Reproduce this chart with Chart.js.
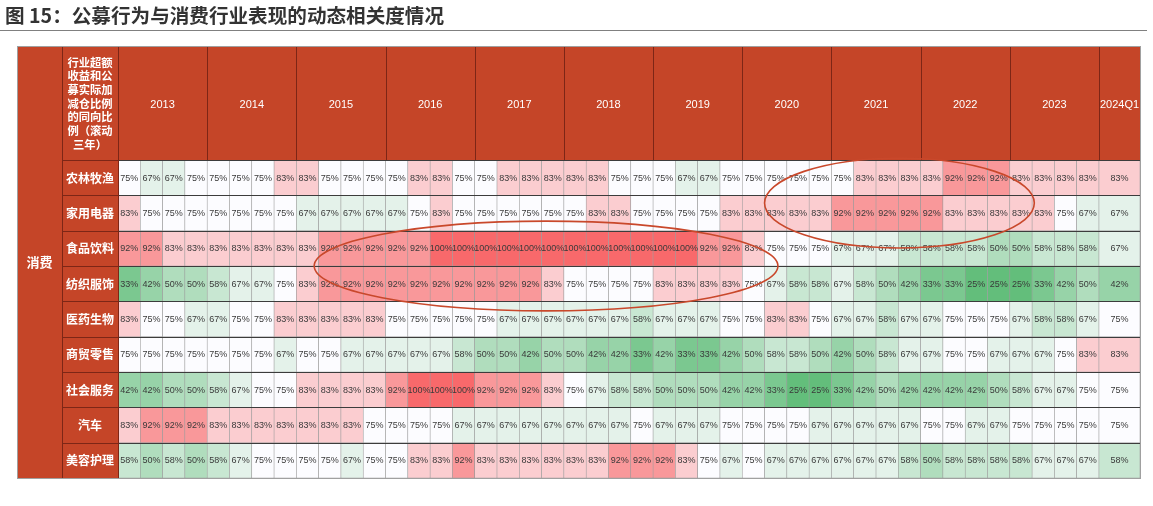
<!DOCTYPE html>
<html>
<head>
<meta charset="utf-8">
<script src="https://cdn.jsdelivr.net/npm/chart.js@4.4.1/dist/chart.umd.min.js"></script>
<style>
  html, body { margin: 0; padding: 0; background: #ffffff; width: 1153px; height: 506px; overflow: hidden; }
  #wrap { position: absolute; left: 0; top: 0; width: 1153px; height: 506px; }
  #title {
    position: absolute; left: 0; top: 0; width: 1147px; height: 31px;
    border-bottom: 1.5px solid #808080; box-sizing: border-box;
    padding-left: 5px; font-family: "Noto Sans CJK SC", sans-serif; font-weight: bold;
    font-size: 19.6px; line-height: 29px; color: #333333; white-space: nowrap;
  }
</style>
</head>
<body>
<div id="wrap"><canvas id="c" width="1153" height="506"></canvas></div>
<div id="title">图 15：公募行为与消费行业表现的动态相关度情况</div>
<script>
// ---------------- data ----------------
const groupLabel = '消费';
const headerLabel = ['行业超额', '收益和公', '募实际加', '减仓比例', '的同向比', '例（滚动', '三年）'];
const industries = ['农林牧渔', '家用电器', '食品饮料', '纺织服饰', '医药生物', '商贸零售', '社会服务', '汽车', '美容护理'];
const years = ['2013', '2014', '2015', '2016', '2017', '2018', '2019', '2020', '2021', '2022', '2023', '2024Q1'];

// values in %, 4 quarters per year 2013-2023, then 2024Q1
const agriculture   = [75,67,67,75, 75,75,75,83, 83,75,75,75, 75,83,83,75, 75,83,83,83, 83,83,75,75, 75,67,67,75, 75,75,75,75, 75,83,83,83, 83,92,92,92, 83,83,83,83, 83];
const homeAppliance = [83,75,75,75, 75,75,75,75, 67,67,67,67, 67,75,83,75, 75,75,75,75, 75,83,83,75, 75,75,75,83, 83,83,83,83, 92,92,92,92, 92,83,83,83, 83,83,75,67, 67];
const foodBeverage  = [92,92,83,83, 83,83,83,83, 83,92,92,92, 92,92,100,100, 100,100,100,100, 100,100,100,100, 100,100,92,92, 83,75,75,75, 67,67,67,58, 58,58,58,50, 50,58,58,58, 67];
const textile       = [33,42,50,50, 58,67,67,75, 83,92,92,92, 92,92,92,92, 92,92,92,83, 75,75,75,75, 83,83,83,83, 75,67,58,58, 67,58,50,42, 33,33,25,25, 25,33,42,50, 42];
const pharma        = [83,75,75,67, 67,75,75,83, 83,83,83,83, 75,75,75,75, 75,67,67,67, 67,67,67,58, 67,67,67,75, 75,83,83,75, 67,67,58,67, 67,75,75,75, 67,58,58,67, 75];
const retail        = [75,75,75,75, 75,75,75,67, 75,75,67,67, 67,67,67,58, 50,50,42,50, 50,42,42,33, 42,33,33,42, 50,58,58,50, 42,50,58,67, 67,75,75,67, 67,67,75,83, 83];
const socialService = [42,42,50,50, 58,67,75,75, 83,83,83,83, 92,100,100,100, 92,92,92,83, 75,67,58,58, 50,50,50,42, 42,33,25,25, 33,42,50,42, 42,42,42,50, 58,67,67,75, 75];
const auto          = [83,92,92,92, 83,83,83,83, 83,83,83,75, 75,75,75,67, 67,67,67,67, 67,67,67,75, 67,67,67,75, 75,75,75,67, 67,67,67,67, 75,75,67,67, 75,75,75,75, 75];
const beauty        = [58,50,58,50, 58,67,75,75, 75,75,67,75, 75,83,83,92, 83,83,83,83, 83,83,92,92, 92,83,75,67, 75,67,67,67, 67,67,67,58, 50,58,58,58, 58,67,67,67, 58];
const seriesValues = [agriculture, homeAppliance, foodBeverage, textile, pharma, retail, socialService, auto, beauty];

// ---------------- layout / style ----------------
const LAST_W = 1.84;          // relative width of the single-quarter 2024Q1 column
const HEADER_RED = '#C54528';
const DARK_RED = '#7d2616';
const FRAME_LEFT = 17, FRAME_TOP = 47;

// columns built from the year list
const columns = [];
const yearSpans = [];
years.forEach(y => {
  const start = columns.length;
  if (y.includes('Q')) { columns.push(y); yearSpans.push({ start, end: start + LAST_W }); }
  else { for (let q = 1; q <= 4; q++) columns.push(y + 'Q' + q); yearSpans.push({ start, end: start + 4 }); }
});
const colStart = i => i;
const colEnd = i => i + (years.includes(columns[i]) ? LAST_W : 1);
const yearCenters = yearSpans.map(s => (s.start + s.end) / 2);
const xMax = yearSpans[yearSpans.length - 1].end;

function heatColor(v) {
  const white = [252, 252, 255], red = [248, 105, 107], green = [99, 190, 123];
  let t, c;
  if (v >= 75) { t = (v - 75) / 25; c = red; } else { t = (75 - v) / 50; c = green; }
  const m = white.map((w, k) => Math.round(w + (c[k] - w) * t));
  return `rgb(${m[0]},${m[1]},${m[2]})`;
}

const datasets = industries.map((name, r) => ({
  label: name,
  data: columns.map((c, i) => ({ x: [colStart(i), colEnd(i)], y: name })),
  backgroundColor: seriesValues[r].map(heatColor),
  borderColor: '#9a9a9a',
  borderWidth: 0.6,
  borderSkipped: false,
  grouped: false,
  barPercentage: 1,
  categoryPercentage: 1
}));

const tablePlugin = {
  id: 'tableFrame',
  beforeDraw(chart) {
    const { ctx, chartArea: ca } = chart;
    ctx.save();
    ctx.fillStyle = HEADER_RED;
    ctx.fillRect(FRAME_LEFT, FRAME_TOP, ca.right - FRAME_LEFT, ca.top - FRAME_TOP);
    ctx.fillRect(FRAME_LEFT, ca.top, ca.left - FRAME_LEFT, ca.bottom - ca.top);
    ctx.restore();
  },
  afterDatasetsDraw(chart) {
    const { ctx, chartArea: ca, scales: { x, y } } = chart;
    const band = (ca.bottom - ca.top) / industries.length;
    ctx.save();
    // cell values
    ctx.font = '9px "Liberation Sans", Arial, sans-serif';
    ctx.fillStyle = '#3a3a3a';
    ctx.textAlign = 'center';
    ctx.textBaseline = 'middle';
    chart.data.datasets.forEach((ds, r) => {
      const meta = chart.getDatasetMeta(r);
      meta.data.forEach((el, i) => {
        const p = el.getProps(['x', 'y', 'base'], true);
        ctx.fillText(seriesValues[r][i] + '%', (p.x + p.base) / 2, p.y + 0.5);
      });
    });
    // row lines in data area
    ctx.strokeStyle = '#3c3c3c';
    ctx.lineWidth = 1;
    for (let r = 0; r <= industries.length; r++) {
      const yy = Math.round(ca.top + r * band) + 0.5;
      ctx.beginPath(); ctx.moveTo(ca.left, yy); ctx.lineTo(ca.right, yy); ctx.stroke();
    }
    // header separators
    ctx.strokeStyle = DARK_RED;
    yearSpans.forEach(s => {
      const xx = Math.round(x.getPixelForValue(s.start)) + 0.5;
      ctx.beginPath(); ctx.moveTo(xx, FRAME_TOP); ctx.lineTo(xx, ca.top); ctx.stroke();
    });
    const labLeft = y.left;
    [labLeft, ca.left].forEach(xv => {
      const xx = Math.round(xv) + 0.5;
      ctx.beginPath(); ctx.moveTo(xx, FRAME_TOP); ctx.lineTo(xx, ca.bottom); ctx.stroke();
    });
    for (let r = 0; r <= industries.length; r++) {
      const yy = Math.round(ca.top + r * band) + 0.5;
      ctx.beginPath(); ctx.moveTo(labLeft, yy); ctx.lineTo(ca.left, yy); ctx.stroke();
    }
    // outer frame
    ctx.strokeStyle = '#a0a0a0';
    ctx.strokeRect(FRAME_LEFT + 0.5, FRAME_TOP - 0.5, ca.right - FRAME_LEFT, ca.bottom - FRAME_TOP + 1);
    ctx.fillStyle = '#ffffff';
    // row labels (category axis labels)
    ctx.font = 'bold 12px "Noto Sans CJK SC", sans-serif';
    const lx = (labLeft + ca.left) / 2;
    industries.forEach((name, r) => {
      ctx.fillText(name, lx, y.getPixelForValue(r) + 0.5);
    });
    // header label text
    ctx.font = 'bold 11.3px "Noto Sans CJK SC", sans-serif';
    const hy = (FRAME_TOP + ca.top) / 2;
    const lh = 13.7;
    headerLabel.forEach((t, k) => {
      ctx.fillText(t, lx, hy + (k - (headerLabel.length - 1) / 2) * lh);
    });
    // group label
    ctx.font = 'bold 13px "Noto Sans CJK SC", sans-serif';
    ctx.fillText(groupLabel, (FRAME_LEFT + labLeft) / 2, (FRAME_TOP + ca.bottom) / 2);
    ctx.restore();
  },
  afterDraw(chart) {
    const { ctx, chartArea: ca, scales: { x, y } } = chart;
    const band = (ca.bottom - ca.top) / industries.length;
    const mid = (a, b) => (y.getPixelForValue(a) + y.getPixelForValue(b)) / 2;
    const rings = [
      { x0: 8.8, x1: 29.6, cy: mid(2, 3), ry: 1.27 * band },
      { x0: 29.0, x1: 41.1, cy: mid(0, 1) + 0.22 * band, ry: 1.27 * band }
    ];
    ctx.save();
    ctx.strokeStyle = '#C9482B';
    ctx.lineWidth = 1.6;
    rings.forEach(e => {
      const a = x.getPixelForValue(e.x0), b = x.getPixelForValue(e.x1);
      ctx.beginPath();
      ctx.ellipse((a + b) / 2, e.cy, (b - a) / 2, e.ry, 0, 0, Math.PI * 2);
      ctx.stroke();
    });
    ctx.restore();
  }
};

new Chart(document.getElementById('c'), {
  type: 'bar',
  data: { labels: industries, datasets },
  options: {
    indexAxis: 'y',
    responsive: false,
    animation: false,
    layout: { padding: { left: 62, top: FRAME_TOP, right: 13, bottom: 28 } },
    plugins: { legend: { display: false }, tooltip: { enabled: false } },
    scales: {
      x: {
        type: 'linear', position: 'top', min: 0, max: xMax,
        grid: { display: false }, border: { display: false },
        afterBuildTicks: s => { s.ticks = yearCenters.map(v => ({ value: v })); },
        afterFit: s => { s.height = 113; s.paddingLeft = 0; s.paddingRight = 0; },
        ticks: {
          autoSkip: false, maxRotation: 0, minRotation: 0, padding: 40,
          color: '#ffffff', font: { family: '"Liberation Sans", Arial, sans-serif', size: 11 },
          callback: (v, i) => years[i]
        }
      },
      y: {
        type: 'category', offset: true,
        grid: { display: false }, border: { display: false },
        afterFit: s => { s.width = 56; },
        ticks: { display: false }
      }
    }
  },
  plugins: [tablePlugin]
});
</script>
</body>
</html>
